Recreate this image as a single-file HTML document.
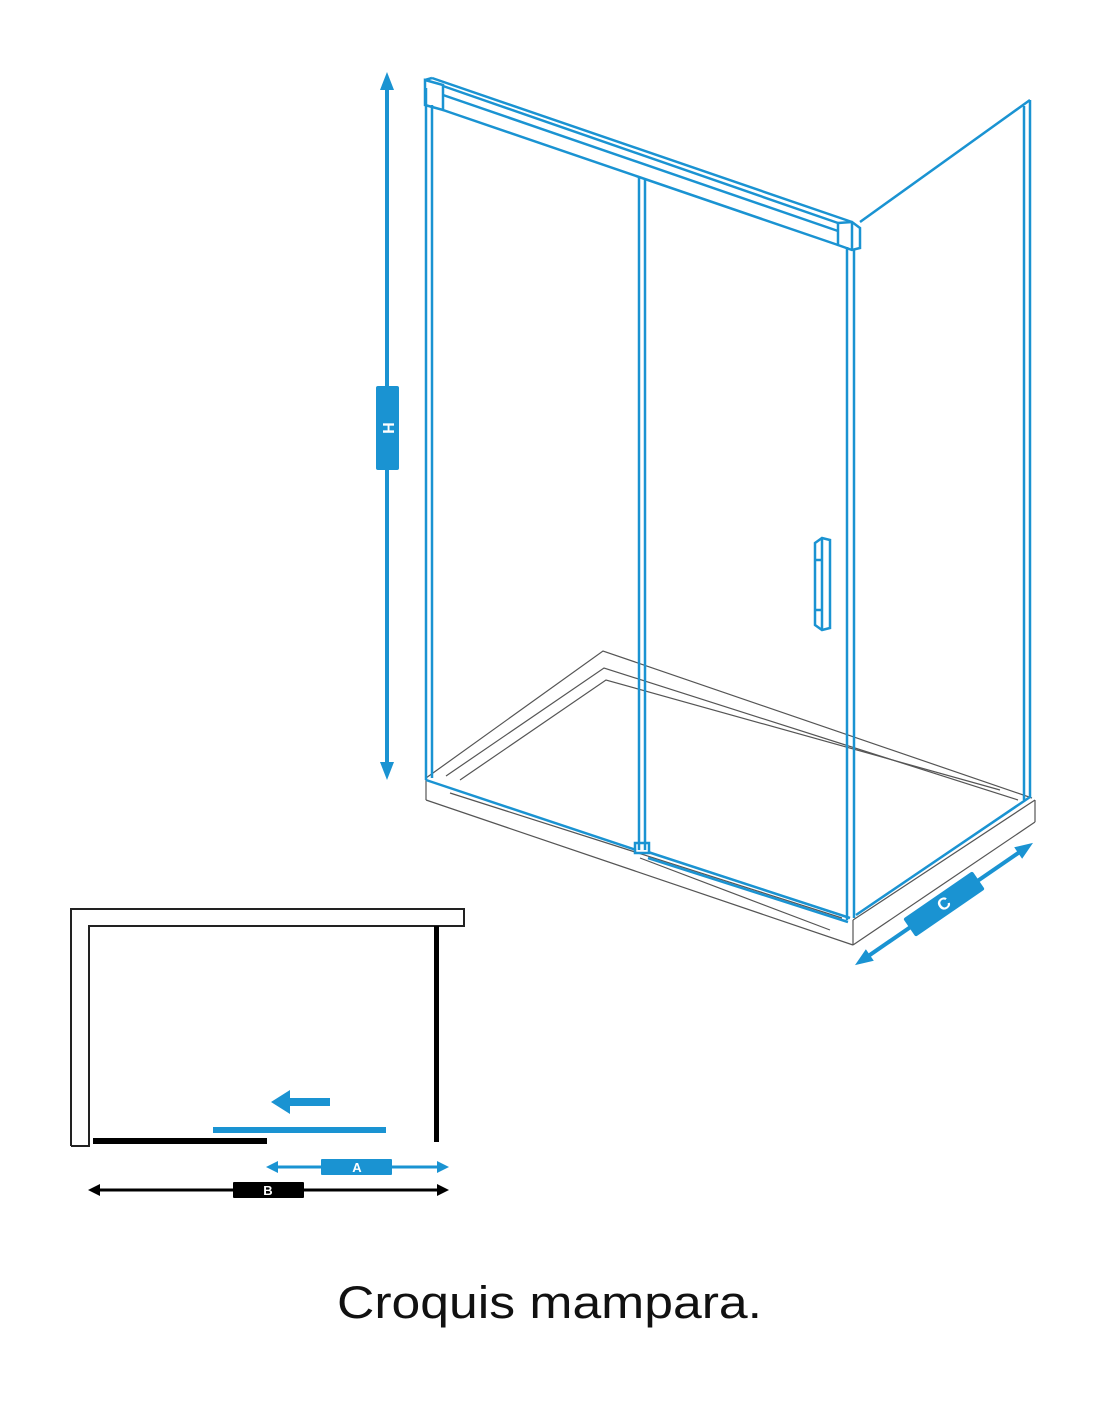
<!DOCTYPE html>
<html><head><meta charset="utf-8"><style>
html,body{margin:0;padding:0;background:#fff}
svg{display:block}
</style></head><body>
<svg width="1100" height="1422" viewBox="0 0 1100 1422" xmlns="http://www.w3.org/2000/svg">
<!-- tray (gray) -->
<g fill="none" stroke="#555" stroke-width="1.2">
<polyline points="426,778 603,651 1032,798"/>
<polyline points="446,776 604,668 1018,800"/>
<polyline points="460,780 606,680 1000,790"/>
<line x1="426" y1="780" x2="426" y2="800"/>
<line x1="426" y1="800" x2="853" y2="945"/>
<line x1="853" y1="920" x2="853" y2="945"/>
<line x1="853" y1="945" x2="1035" y2="822"/>
<line x1="853" y1="920" x2="1035" y2="800"/>
<line x1="1035" y1="800" x2="1035" y2="822"/>
<line x1="450" y1="793" x2="842" y2="918"/>
<line x1="640" y1="858" x2="830" y2="930"/>
</g>
<!-- glass frame blue -->
<g fill="none" stroke="#1a93d2" stroke-width="2.5">
<line x1="426" y1="88" x2="426" y2="780"/>
<line x1="432" y1="105" x2="432" y2="778"/>
<polygon points="425,80 443,85 443,110 425,105"/>
<line x1="425" y1="80" x2="432" y2="78"/>
<line x1="432" y1="78" x2="852" y2="222"/>
<line x1="443" y1="86" x2="838" y2="223"/>
<line x1="443" y1="95" x2="838" y2="231"/>
<line x1="443" y1="110" x2="838" y2="245"/>
<polygon points="838,223 852,222 860,228 860,248 852,250 838,245"/>
<line x1="852" y1="222" x2="852" y2="250"/>
<line x1="639" y1="178" x2="639" y2="850"/>
<line x1="645" y1="180" x2="645" y2="850"/>
<line x1="847" y1="247" x2="847" y2="920"/>
<line x1="854" y1="250" x2="854" y2="918"/>
<line x1="860" y1="222" x2="1030" y2="100"/>
<line x1="1024" y1="106" x2="1024" y2="800"/>
<line x1="1030" y1="100" x2="1030" y2="798"/>
<line x1="856" y1="915" x2="1030" y2="797"/>
<line x1="426" y1="780" x2="636" y2="850"/>
<line x1="648" y1="852" x2="850" y2="918"/>
<line x1="648" y1="858" x2="848" y2="922"/>
<rect x="635" y="843" width="14" height="10"/>
<polygon points="815,543 822,538 830,540 830,628 822,630 815,625"/>
<line x1="822" y1="538" x2="822" y2="630"/>
<line x1="815" y1="560" x2="822" y2="560"/>
<line x1="815" y1="610" x2="822" y2="610"/>
</g>
<!-- H dimension -->
<line x1="387" y1="84" x2="387" y2="770" stroke="#1a93d2" stroke-width="4"/>
<path d="M387,72 L380,90 L394,90 Z M387,780 L380,762 L394,762 Z" fill="#1a93d2"/>
<rect x="376" y="386" width="23" height="84" rx="2" fill="#1a93d2"/>
<text x="0" y="0" transform="translate(387.5,428) rotate(90)" font-family="Liberation Sans, sans-serif" font-weight="bold" font-size="16" fill="#fff" text-anchor="middle" dominant-baseline="central">H</text>
<!-- C dimension -->
<g transform="translate(944,904) rotate(-34.5)">
<line x1="-95" y1="0" x2="95" y2="0" stroke="#1a93d2" stroke-width="4"/>
<path d="M-108,0 L-90,-7 L-90,7 Z M108,0 L90,-7 L90,7 Z" fill="#1a93d2"/>
<rect x="-42" y="-11" width="84" height="22" rx="2" fill="#1a93d2"/>
<text x="0" y="0" font-family="Liberation Sans, sans-serif" font-weight="bold" font-size="17" fill="#fff" text-anchor="middle" dominant-baseline="central">C</text>
</g>
<!-- plan view -->
<g fill="none" stroke="#222" stroke-width="2">
<polyline points="71,1146 71,909 464,909 464,926 89,926 89,1146 71,1146"/>
</g>
<rect x="434" y="926" width="5" height="216" fill="#000"/>
<rect x="93" y="1138" width="174" height="6" fill="#000"/>
<rect x="213" y="1127" width="173" height="6" fill="#1a93d2"/>
<path d="M271,1102 L290,1090 L290,1098 L330,1098 L330,1106 L290,1106 L290,1114 Z" fill="#1a93d2"/>
<line x1="275" y1="1167" x2="440" y2="1167" stroke="#1a93d2" stroke-width="3"/>
<path d="M266,1167 L278,1161 L278,1173 Z M449,1167 L437,1161 L437,1173 Z" fill="#1a93d2"/>
<rect x="321" y="1159" width="71" height="16" rx="1" fill="#1a93d2"/>
<text x="357" y="1172" font-family="Liberation Sans, sans-serif" font-weight="bold" font-size="13" fill="#fff" text-anchor="middle">A</text>
<line x1="96" y1="1190" x2="440" y2="1190" stroke="#000" stroke-width="3"/>
<path d="M88,1190 L100,1184 L100,1196 Z M449,1190 L437,1184 L437,1196 Z" fill="#000"/>
<rect x="233" y="1182" width="71" height="16" rx="1" fill="#000"/>
<text x="268" y="1195" font-family="Liberation Sans, sans-serif" font-weight="bold" font-size="13" fill="#fff" text-anchor="middle">B</text>
<!-- caption -->
<text x="337" y="1318" textLength="425" lengthAdjust="spacingAndGlyphs" font-family="Liberation Sans, sans-serif" font-size="45" fill="#111">Croquis mampara.</text>
</svg>
</body></html>
